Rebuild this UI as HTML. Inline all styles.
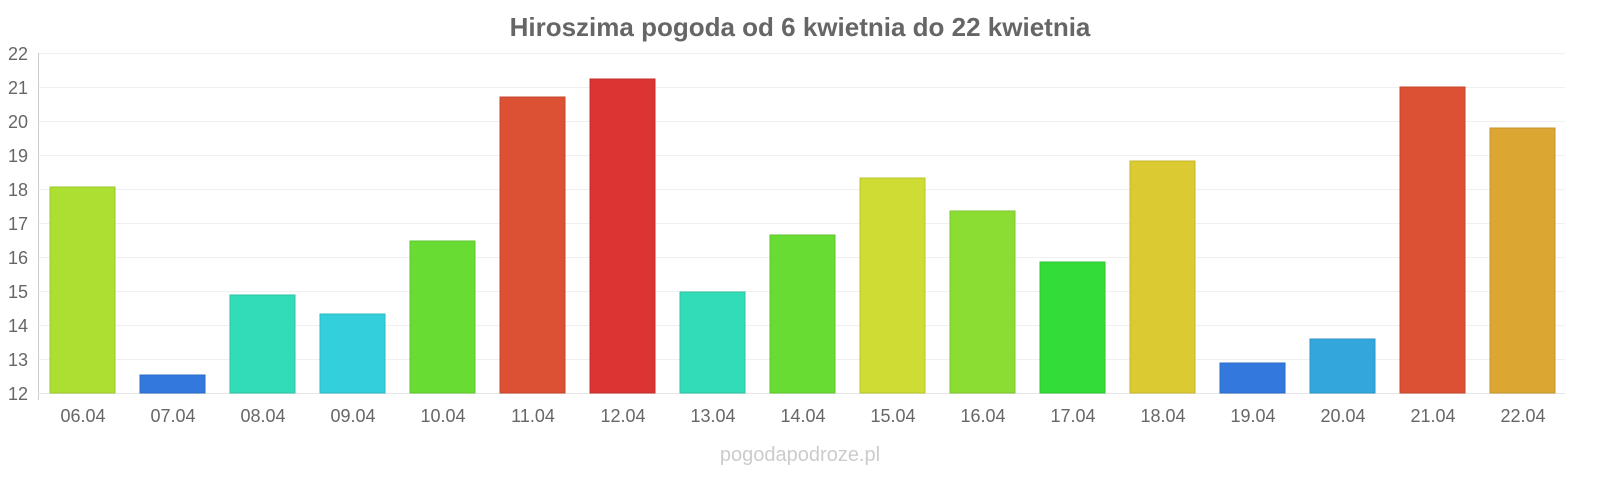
<!DOCTYPE html>
<html><head><meta charset="utf-8"><style>
body{margin:0;background:#fff;width:1600px;height:480px;overflow:hidden;font-family:"Liberation Sans",sans-serif}
</style></head><body>
<svg width="1600" height="480" xmlns="http://www.w3.org/2000/svg" font-family="Liberation Sans, sans-serif">
<text x="800" y="36" text-anchor="middle" font-size="26" font-weight="bold" fill="#666">Hiroszima pogoda od 6 kwietnia do 22 kwietnia</text>
<g stroke="#f0f0f0" stroke-width="1">
<line x1="38" x2="1565" y1="53.5" y2="53.5"/><line x1="38" x2="1565" y1="87.5" y2="87.5"/>
<line x1="38" x2="1565" y1="121.5" y2="121.5"/><line x1="38" x2="1565" y1="155.5" y2="155.5"/>
<line x1="38" x2="1565" y1="189.5" y2="189.5"/><line x1="38" x2="1565" y1="223.5" y2="223.5"/>
<line x1="38" x2="1565" y1="257.5" y2="257.5"/><line x1="38" x2="1565" y1="291.5" y2="291.5"/>
<line x1="38" x2="1565" y1="325.5" y2="325.5"/><line x1="38" x2="1565" y1="359.5" y2="359.5"/>
</g>
<line x1="38.5" x2="38.5" y1="53" y2="400" stroke="#ccc"/>
<line x1="38" x2="1565" y1="393.5" y2="393.5" stroke="#e6e6e6"/>
<g font-size="18" fill="#666" text-anchor="end">
<text x="28" y="60">22</text><text x="28" y="94">21</text><text x="28" y="128">20</text><text x="28" y="162">19</text><text x="28" y="196">18</text><text x="28" y="230">17</text><text x="28" y="264">16</text><text x="28" y="298">15</text><text x="28" y="332">14</text><text x="28" y="366">13</text><text x="28" y="400">12</text>
</g>
<g stroke-width="1">
<rect x="50" y="187" width="65" height="206" fill="#addf33" stroke="#9bc82d"/>
<rect x="140" y="375" width="65" height="18" fill="#3378dc" stroke="#2d6bc5"/>
<rect x="230" y="295" width="65" height="98" fill="#33dcb8" stroke="#2dc5a5"/>
<rect x="320" y="314" width="65" height="79" fill="#33cfdc" stroke="#2db9c5"/>
<rect x="410" y="241" width="65" height="152" fill="#69dc33" stroke="#5ec52d"/>
<rect x="500" y="97" width="65" height="296" fill="#dc5033" stroke="#c5472d"/>
<rect x="590" y="79" width="65" height="314" fill="#dc3333" stroke="#c52d2d"/>
<rect x="680" y="292" width="65" height="101" fill="#33dcb8" stroke="#2dc5a5"/>
<rect x="770" y="235" width="65" height="158" fill="#69dc33" stroke="#5ec52d"/>
<rect x="860" y="178" width="65" height="215" fill="#cfdc33" stroke="#b9c52d"/>
<rect x="950" y="211" width="65" height="182" fill="#8bdc33" stroke="#7dc52d"/>
<rect x="1040" y="262" width="65" height="131" fill="#33dc38" stroke="#2dc532"/>
<rect x="1130" y="161" width="65" height="232" fill="#dcca33" stroke="#c5b52d"/>
<rect x="1220" y="363" width="65" height="30" fill="#3378dc" stroke="#2d6bc5"/>
<rect x="1310" y="339" width="65" height="54" fill="#33a6dc" stroke="#2d95c5"/>
<rect x="1400" y="87" width="65" height="306" fill="#dc5033" stroke="#c5472d"/>
<rect x="1490" y="128" width="65" height="265" fill="#dca633" stroke="#c5952d"/>
</g>
<g font-size="18" fill="#666" text-anchor="middle">
<text x="83" y="422">06.04</text><text x="173" y="422">07.04</text><text x="263" y="422">08.04</text><text x="353" y="422">09.04</text><text x="443" y="422">10.04</text><text x="533" y="422">11.04</text><text x="623" y="422">12.04</text><text x="713" y="422">13.04</text><text x="803" y="422">14.04</text><text x="893" y="422">15.04</text><text x="983" y="422">16.04</text><text x="1073" y="422">17.04</text><text x="1163" y="422">18.04</text><text x="1253" y="422">19.04</text><text x="1343" y="422">20.04</text><text x="1433" y="422">21.04</text><text x="1523" y="422">22.04</text>
</g>
<text x="800" y="461" text-anchor="middle" font-size="20" fill="#ccc">pogodapodroze.pl</text>
</svg>
</body></html>
